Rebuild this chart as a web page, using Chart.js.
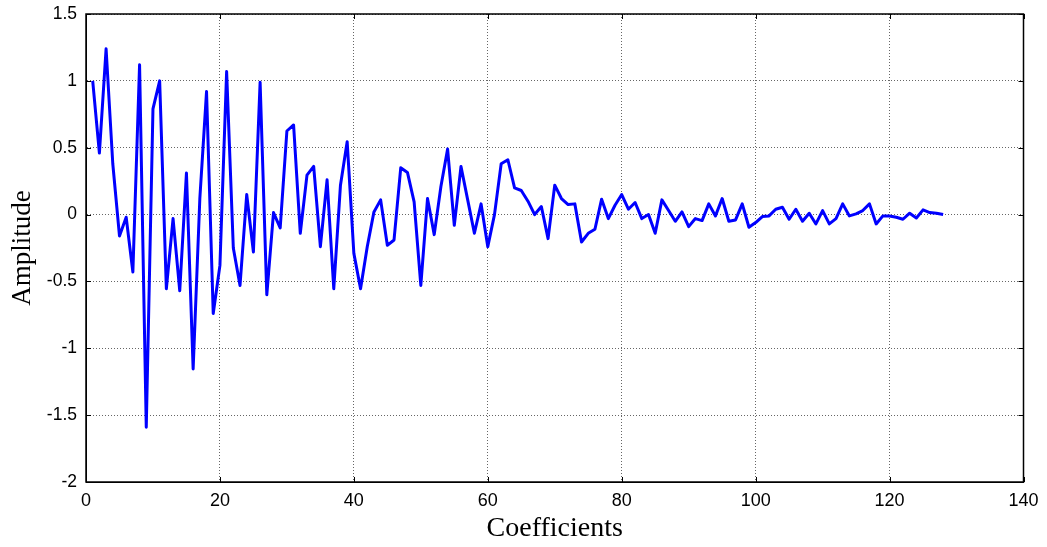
<!DOCTYPE html>
<html lang="en">
<head>
  <meta charset="UTF-8" />
  <title>Amplitude vs Coefficients</title>
  <script src="https://cdn.jsdelivr.net/npm/chart.js"></script>
  <style>
    html, body {
      margin: 0;
      padding: 0;
      background: #fff;
    }
    canvas {
      display: block;
    }
  </style>
</head>
<body>
  <canvas id="coefChart" width="1047" height="547"></canvas>
  <script>
    // amplitude of coefficients 1..128 in chunks
    const amp1to32 = [
      1.0, 0.46, 1.24, 0.38, -0.16, -0.02, -0.43, 1.12,
      -1.59, 0.79, 1.0, -0.555, -0.03, -0.57, 0.31, -1.155,
      0.12, 0.92, -0.74, -0.38, 1.07, -0.25, -0.53, 0.15,
      -0.28, 0.99, -0.6, 0.015, -0.1, 0.625, 0.67, -0.14
    ];
    const amp33to64 = [
      0.295, 0.36, -0.24, 0.26, -0.555, 0.22, 0.545, -0.29,
      -0.555, -0.24, 0.02, 0.11, -0.23, -0.19, 0.35, 0.315,
      0.095, -0.53, 0.12, -0.15, 0.21, 0.49, -0.08, 0.36,
      0.11, -0.14, 0.08, -0.24, 0.0, 0.38, 0.41, 0.2
    ];
    const amp65to96 = [
      0.18, 0.1, 0.0, 0.06, -0.18, 0.22, 0.12, 0.075,
      0.08, -0.205, -0.14, -0.11, 0.115, -0.03, 0.07, 0.15,
      0.04, 0.09, -0.03, 0.0, -0.14, 0.11, 0.03, -0.05,
      0.02, -0.09, -0.03, -0.045, 0.08, -0.01, 0.12, -0.05
    ];
    const amp97to128 = [
      -0.04, 0.08, -0.095, -0.06, -0.015, -0.01, 0.04, 0.055,
      -0.035, 0.04, -0.05, 0.01, -0.07, 0.03, -0.07, -0.03,
      0.08, -0.01, 0.005, 0.03, 0.08, -0.07, -0.01, -0.01,
      -0.02, -0.035, 0.01, -0.025, 0.035, 0.015, 0.01, 0.0
    ];
    const amplitude = [].concat(amp1to32, amp33to64, amp65to96, amp97to128);
    const coefficients = amplitude.map((_, i) => i + 1);

    const xTicks = [0, 20, 40, 60, 80, 100, 120, 140];
    const yTicks = [-2, -1.5, -1, -0.5, 0, 0.5, 1, 1.5];

    // matlab style box with inward tick marks
    const boxPlugin = {
      id: 'box',
      afterDraw(chart) {
        const { ctx, chartArea: a } = chart;
        const xs = chart.scales.x, ys = chart.scales.y;
        ctx.save();
        ctx.strokeStyle = '#000';
        ctx.lineWidth = 1;
        ctx.beginPath();
        xTicks.forEach(v => {
          const px = Math.round(xs.getPixelForValue(v)) + 0.5;
          ctx.moveTo(px, a.bottom); ctx.lineTo(px, a.bottom - 5);
          ctx.moveTo(px, a.top); ctx.lineTo(px, a.top + 5);
        });
        yTicks.forEach(v => {
          const py = Math.round(ys.getPixelForValue(v)) + 0.5;
          ctx.moveTo(a.left, py); ctx.lineTo(a.left + 5, py);
          ctx.moveTo(a.right, py); ctx.lineTo(a.right - 5, py);
        });
        ctx.stroke();
        ctx.lineWidth = 1.5;
        ctx.strokeRect(a.left, a.top, a.right - a.left, a.bottom - a.top);
        ctx.restore();
      }
    };

    new Chart(document.getElementById('coefChart'), {
      type: 'line',
      data: {
        datasets: [{
          data: coefficients.map((c, i) => ({ x: c, y: amplitude[i] })),
          borderColor: '#0000ff',
          borderWidth: 3,
          borderJoinStyle: 'round',
          pointRadius: 0,
          tension: 0,
          fill: false
        }]
      },
      options: {
        responsive: false,
        animation: false,
        layout: { padding: { left: 0, right: 23.5, top: 14, bottom: 0 } },
        plugins: {
          legend: { display: false },
          tooltip: { enabled: false }
        },
        scales: {
          x: {
            type: 'linear',
            min: 0,
            max: 140,
            afterBuildTicks: s => { s.ticks = xTicks.map(v => ({ value: v })); },
            afterFit: s => { s.height = 65; s.paddingLeft = 0; s.paddingRight = 0; },
            grid: { color: '#666', lineWidth: 1, drawTicks: false },
            border: { color: '#000', width: 1, dash: [1, 2] },
            ticks: {
              padding: 8,
              color: '#000',
              font: { family: 'Liberation Sans', size: 18 },
              maxRotation: 0
            },
            title: {
              display: true,
              text: 'Coefficients',
              color: '#000',
              font: { family: 'Liberation Serif', size: 28, lineHeight: 1 },
              padding: { top: 0, bottom: 4 }
            }
          },
          y: {
            min: -2,
            max: 1.5,
            afterBuildTicks: s => { s.ticks = yTicks.map(v => ({ value: v })); },
            afterFit: s => { s.width = 86; s.paddingTop = 0; s.paddingBottom = 0; },
            grid: { color: '#666', lineWidth: 1, drawTicks: false },
            border: { color: '#000', width: 1, dash: [1, 2] },
            ticks: {
              padding: 9,
              color: '#000',
              font: { family: 'Liberation Sans', size: 17.5 },
              callback: v => String(v)
            },
            title: {
              display: true,
              text: 'Amplitude',
              color: '#000',
              font: { family: 'Liberation Serif', size: 27, lineHeight: 1 },
              padding: { top: 9, bottom: 0 }
            }
          }
        }
      },
      plugins: [boxPlugin]
    });
  </script>
</body>
</html>
